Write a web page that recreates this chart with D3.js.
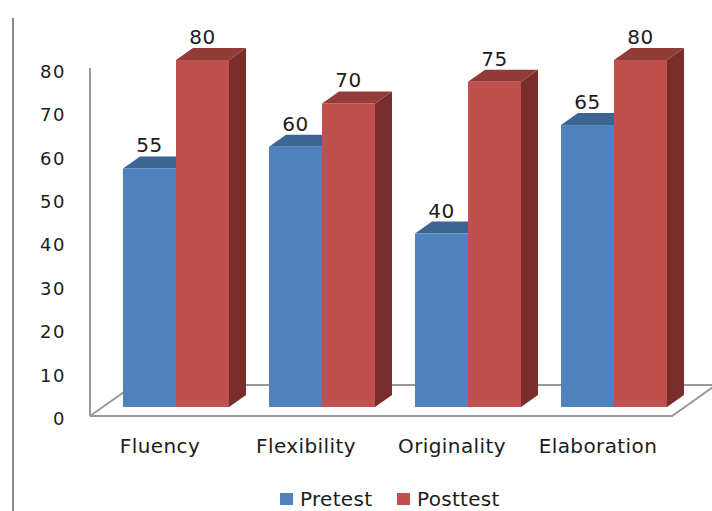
<!DOCTYPE html>
<html>
<head>
<meta charset="utf-8">
<script src="https://cdn.jsdelivr.net/npm/d3@7"></script>
<style>
  html, body { margin: 0; padding: 0; background: #fff; }
  svg { display: block; }
  text { font-family: "DejaVu Sans", sans-serif; fill: #1c1c1c; }
</style>
</head>
<body>
<svg id="chart" width="712" height="511"></svg>
<script>
// Scores per creativity dimension, before and after
const categories = ["Fluency", "Flexibility", "Originality", "Elaboration"];
const seriesNames = ["Pretest", "Posttest"];
const pretest = [55, 60, 40, 65];
const posttest = [80, 70, 75, 80];
const yTicks = [0, 10, 20, 30, 40, 50, 60, 70, 80];

const seriesValues = [pretest, posttest];
const colors = [
  { front: "#4f81bd", top: "#3c6593", side: "#2f4f74" },
  { front: "#c0504d", top: "#923c39", side: "#7a2e2c" }
];

const svg = d3.select("#chart");

// 3D projection of the bars and floor
const barDepth = { dx: 17, dy: 12 };
const floorDepth = { dx: 44, dy: 31 };
const frontOffset = 11; // floor front edge sits below the bar bases

const x = d3.scaleBand()
  .domain(categories)
  .range([103, 687])
  .paddingInner(40 / 146)
  .paddingOuter(20 / 146);

const xs = d3.scaleBand()
  .domain(seriesNames)
  .range([0, x.bandwidth()]);

const y = d3.scaleLinear().domain([0, 80]).range([407, 60]);
const yAxisScale = d3.scaleLinear().domain([0, 80]).range([407 + frontOffset, 60 + frontOffset]);

// Page border line on the left
svg.append("line")
  .attr("x1", 13).attr("x2", 13)
  .attr("y1", 18).attr("y2", 511)
  .attr("stroke", "#8a8a8a").attr("stroke-width", 2);

// Floor outline
const floorY = yAxisScale(0) - 2;
const floorLeft = 90, floorRight = 672;
const floor = svg.append("g")
  .attr("fill", "none")
  .attr("stroke", "#9a9a9a")
  .attr("stroke-width", 2);
floor.append("path").attr("d", d3.line()([
  [floorLeft, floorY],
  [floorRight, floorY],
  [floorRight + floorDepth.dx, floorY - floorDepth.dy],
  [floorLeft + floorDepth.dx, floorY - floorDepth.dy],
  [floorLeft, floorY]
]));

// Vertical axis line
svg.append("line")
  .attr("x1", floorLeft).attr("x2", floorLeft)
  .attr("y1", yAxisScale(80) - 3).attr("y2", floorY)
  .attr("stroke", "#9a9a9a").attr("stroke-width", 2);

// Y tick labels
const yAxis = svg.append("g")
  .attr("transform", "translate(66,0)")
  .call(d3.axisLeft(yAxisScale).tickValues(yTicks).tickSize(0).tickPadding(0));
yAxis.select(".domain").remove();
yAxis.selectAll("text")
  .style("font-family", "'DejaVu Sans', sans-serif")
  .style("font-size", "18px")
  .style("letter-spacing", "1.5px")
  .attr("fill", "#1c1c1c")
  .attr("dy", "0.36em");

// Bars
const groups = svg.append("g").selectAll("g")
  .data(categories)
  .join("g")
  .attr("transform", d => `translate(${x(d)},0)`);

seriesNames.forEach((s, si) => {
  groups.each(function (cat, ci) {
    const v = seriesValues[si][ci];
    const g = d3.select(this);
    const x0 = xs(s), x1 = x0 + xs.bandwidth();
    const yTop = y(v), yBase = y(0);
    const { dx, dy } = barDepth;
    // side face
    g.append("path")
      .attr("d", d3.line()([[x1, yTop], [x1 + dx, yTop - dy], [x1 + dx, yBase - dy], [x1, yBase]]) + "Z")
      .attr("fill", colors[si].side);
    // top face
    g.append("path")
      .attr("d", d3.line()([[x0, yTop], [x0 + dx, yTop - dy], [x1 + dx, yTop - dy], [x1, yTop]]) + "Z")
      .attr("fill", colors[si].top);
    // front face
    g.append("rect")
      .attr("x", x0).attr("y", yTop)
      .attr("width", xs.bandwidth()).attr("height", yBase - yTop)
      .attr("fill", colors[si].front);
  });
});

// Value labels
seriesNames.forEach((s, si) => {
  groups.append("text")
    .attr("x", xs(s) + xs.bandwidth() / 2)
    .attr("y", (d, i) => y(seriesValues[si][i]) - 16)
    .attr("text-anchor", "middle")
    .style("font-size", "20px")
    .style("letter-spacing", "0.5px")
    .text((d, i) => seriesValues[si][i]);
});

// Category labels
svg.append("g").selectAll("text")
  .data(categories)
  .join("text")
  .attr("x", d => x(d) + x.bandwidth() / 2 - 16)
  .attr("y", 453)
  .attr("text-anchor", "middle")
  .style("font-size", "20px")
  .style("letter-spacing", "0.4px")
  .text(d => d);

// Legend
const legendX = [280, 397];
const legend = svg.append("g").selectAll("g")
  .data(seriesNames)
  .join("g")
  .attr("transform", (d, i) => `translate(${legendX[i]},493)`);
legend.append("rect")
  .attr("width", 13).attr("height", 12)
  .attr("fill", (d, i) => colors[i].front);
legend.append("text")
  .attr("x", 20).attr("y", 13)
  .style("font-size", "20px")
  .style("letter-spacing", "0.3px")
  .text(d => d);
</script>
</body>
</html>
